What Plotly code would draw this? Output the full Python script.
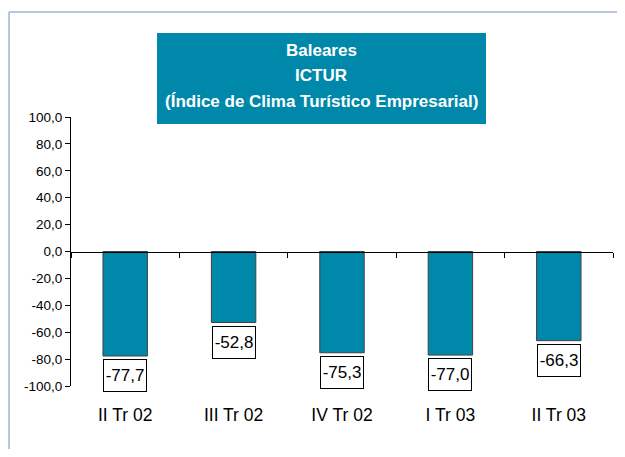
import plotly.graph_objects as go

categories = ["II Tr 02", "III Tr 02", "IV Tr 02", "I Tr 03", "II Tr 03"]
values = [-77.7, -52.8, -75.3, -77.0, -66.3]
tick_vals = [100, 80, 60, 40, 20, 0, -20, -40, -60, -80, -100]
tick_text = ["100,0", "80,0", "60,0", "40,0", "20,0", "0,0", "-20,0", "-40,0", "-60,0", "-80,0", "-100,0"]
title_lines = ["Baleares", "ICTUR", "(Índice de Clima Turístico Empresarial)"]

TEAL = "#0088AA"
FONT = "Arial, Liberation Sans, sans-serif"
BORDER = "#9DB3D3"

def fmt(v):
    return f"{v:.1f}".replace(".", ",")

fig = go.Figure()
fig.add_trace(go.Bar(
    x=categories, y=values, width=0.41,
    marker=dict(color=TEAL, line=dict(color="#404040", width=1)),
    hoverinfo="skip", showlegend=False,
))
# invisible helper trace so the zero-line axis gets drawn
fig.add_trace(go.Scatter(
    x=categories, y=values, xaxis="x2", mode="none",
    hoverinfo="skip", showlegend=False,
))

for c, v in zip(categories, values):
    fig.add_annotation(
        x=c, y=v, xref="x", yref="y", text=fmt(v), showarrow=False,
        yanchor="top", yshift=-3, width=42, height=31,
        bgcolor="white", bordercolor="black", borderwidth=1, borderpad=0,
        font=dict(family=FONT, size=17, color="black"),
    )

# outer frame (top and left edges are the visible ones)
fig.add_shape(type="line", xref="paper", yref="paper",
              x0=-0.1143, x1=1.2, y0=1.39, y1=1.39,
              line=dict(color=BORDER, width=1.5), layer="below")
fig.add_shape(type="line", xref="paper", yref="paper",
              x0=-0.1143, x1=-0.1143, y0=-0.4, y1=1.39,
              line=dict(color=BORDER, width=1.5), layer="below")
# title box
fig.add_shape(type="rect", xref="paper", yref="paper",
              x0=0.1587, x1=0.7657, y0=0.974, y1=1.312,
              line=dict(width=0), fillcolor=TEAL, layer="above")
for line, yy in zip(title_lines, [1.249, 1.156, 1.059]):
    fig.add_annotation(x=0.462, y=yy, xref="paper", yref="paper", text=f"<b>{line}</b>",
                       showarrow=False, xanchor="center", yanchor="middle",
                       font=dict(family=FONT, size=17, color="white"))

fig.update_layout(
    width=609, height=441,
    margin=dict(l=63, r=4, t=109, b=63),
    paper_bgcolor="white", plot_bgcolor="white",
    font=dict(family=FONT, color="black"),
    xaxis=dict(
        type="category", categoryorder="array", categoryarray=categories,
        range=[-0.5, 4.5], showline=False, ticks="", showgrid=False, zeroline=False,
        tickfont=dict(size=17.5), ticklabelstandoff=16,
    ),
    xaxis2=dict(
        type="category", categoryorder="array", categoryarray=categories,
        range=[-0.5, 4.5], overlaying="x", anchor="free", position=0.5,
        showline=True, linecolor="black", linewidth=1,
        ticks="outside", ticklen=5, tickcolor="black", tickson="boundaries",
        showticklabels=False, showgrid=False, zeroline=False,
    ),
    yaxis=dict(
        range=[-100, 100], tickvals=tick_vals, ticktext=tick_text,
        showline=True, linecolor="black", linewidth=1,
        ticks="outside", ticklen=5, tickcolor="black",
        showgrid=False, zeroline=False, tickfont=dict(size=13.5),
    ),
)

fig.write_html("out.html", config={"displayModeBar": False})
